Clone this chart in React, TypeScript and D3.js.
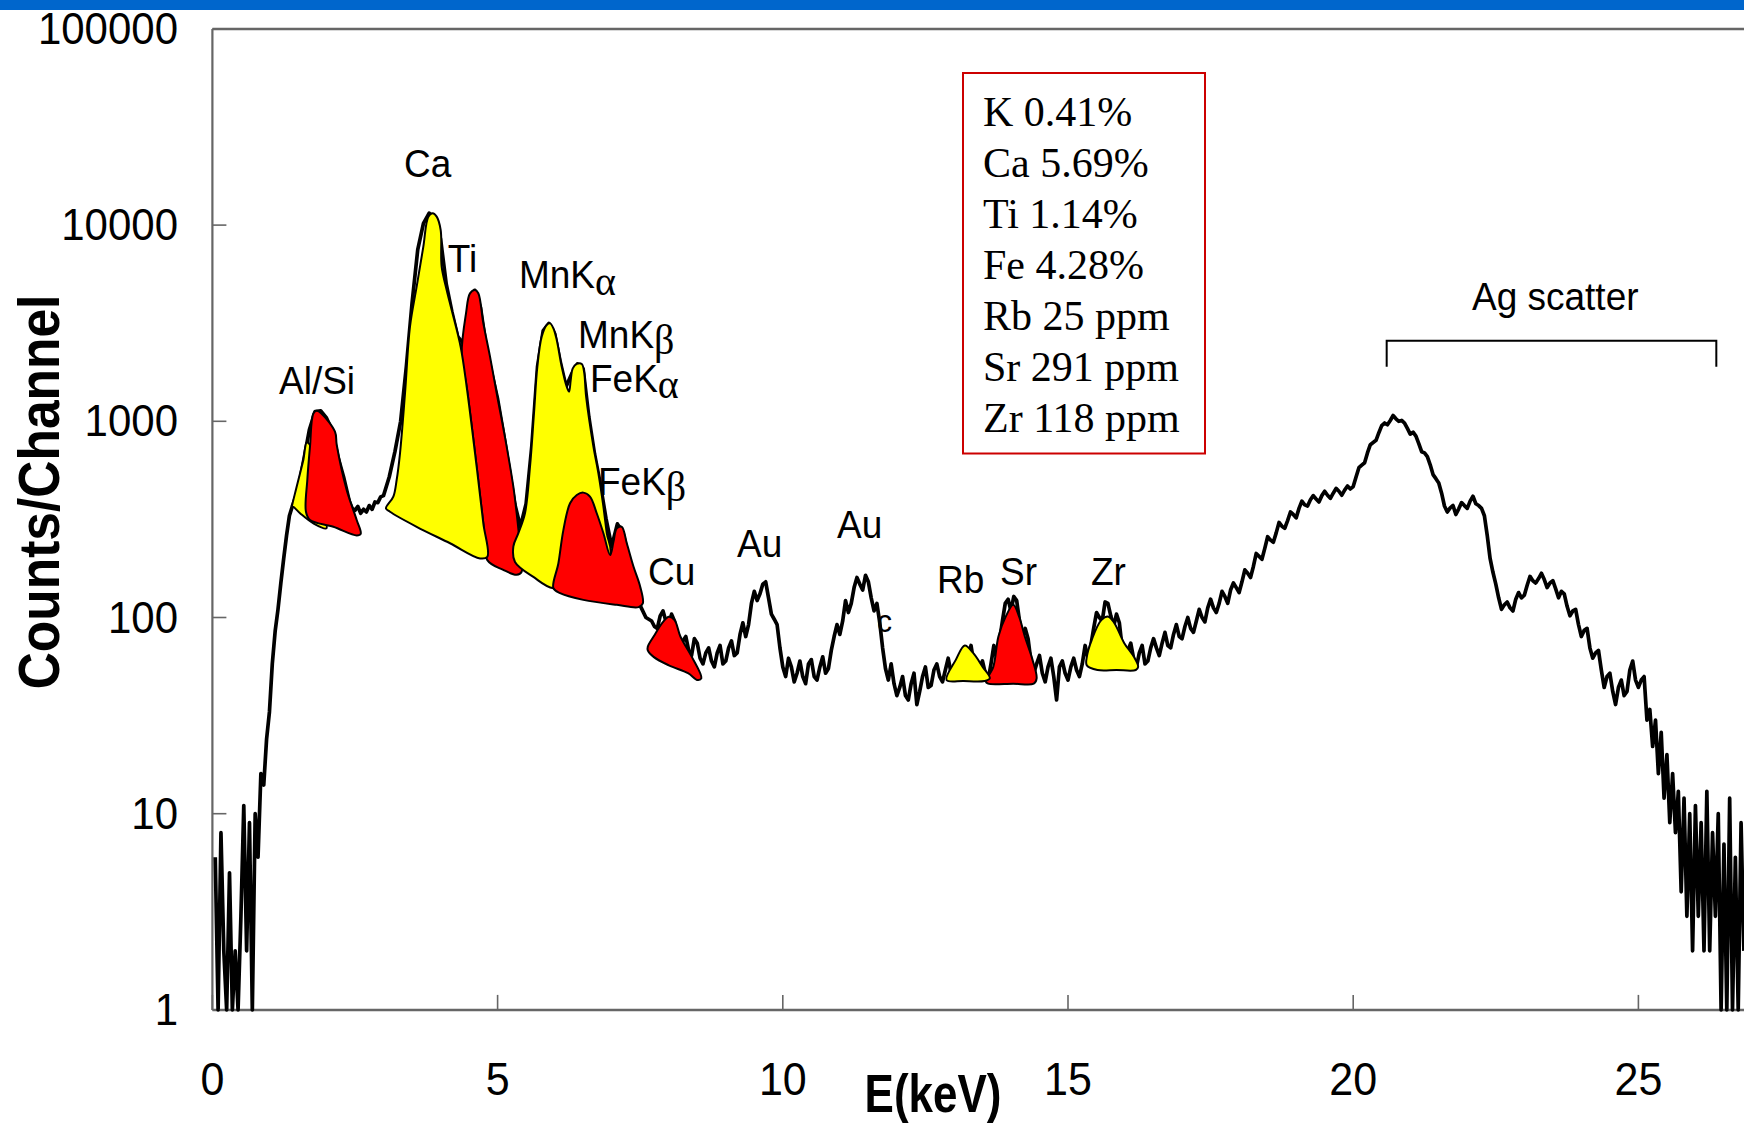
import React from 'react';
import * as d3 from 'd3';

type Pt = [number, number];

// measured spectrum, [energy keV, counts per channel]
const spectrumMain: Pt[] = [
  [0.05, 6], [0.1, 1], [0.15, 8], [0.2, 2], [0.25, 1], [0.3, 5], [0.35, 1], [0.4, 2], [0.45, 1], [0.5, 3],
  [0.55, 11], [0.6, 2], [0.65, 9], [0.7, 1], [0.75, 10], [0.8, 6], [0.85, 16], [0.9, 14], [0.95, 24], [1.0, 33],
  [1.05, 58], [1.1, 85], [1.15, 110], [1.2, 150], [1.25, 200], [1.3, 262], [1.35, 330], [1.4, 368], [1.5, 445], [1.6, 630],
  [1.7, 905], [1.8, 1120], [1.9, 1130], [2.0, 1040], [2.1, 900], [2.2, 660], [2.3, 520], [2.4, 392], [2.45, 360], [2.5, 352],
  [2.55, 368], [2.6, 340], [2.65, 356], [2.7, 345], [2.75, 372], [2.8, 356], [2.85, 388], [2.9, 385], [2.95, 412], [3.0, 418],
  [3.1, 520], [3.2, 700], [3.3, 1000], [3.4, 1900], [3.5, 4000], [3.6, 7500], [3.7, 10200], [3.8, 11500], [3.9, 10800], [4.0, 8500],
  [4.1, 5000], [4.2, 3600], [4.3, 2700], [4.4, 2500], [4.5, 3800], [4.6, 4650], [4.7, 3800], [4.8, 2400], [4.9, 1750], [5.0, 1300],
  [5.1, 880], [5.2, 580], [5.3, 380], [5.4, 290], [5.5, 380], [5.6, 750], [5.7, 1900], [5.8, 2900], [5.9, 3150], [6.0, 2800],
  [6.1, 2000], [6.2, 1500], [6.3, 1750], [6.4, 1960], [6.5, 1850], [6.6, 1050], [6.7, 680], [6.8, 480], [6.9, 320], [7.0, 230],
  [7.1, 300], [7.2, 270], [7.3, 200], [7.4, 150], [7.5, 115], [7.6, 100],
  [7.7, 96], [7.8, 88], [7.9, 108], [8.0, 92], [8.1, 96], [8.2, 72], [8.3, 80], [8.4, 64], [8.5, 74], [8.6, 58],
  [8.7, 70], [8.8, 56], [8.9, 72], [9.0, 60], [9.1, 76], [9.2, 66], [9.3, 94], [9.4, 92], [9.5, 136], [9.6, 132],
  [9.7, 152], [9.8, 104], [9.9, 92], [10.0, 56], [10.1, 62], [10.2, 47], [10.3, 60], [10.4, 46], [10.5, 61], [10.6, 48],
  [10.7, 63], [10.8, 55], [10.9, 80], [11.0, 82], [11.1, 122], [11.2, 118], [11.3, 160], [11.4, 138], [11.5, 152], [11.6, 108],
  [11.7, 94], [11.8, 55], [11.9, 58], [12.0, 40], [12.1, 50], [12.2, 38], [12.3, 52], [12.4, 42], [12.5, 56], [12.6, 45],
  [12.7, 58], [12.8, 47], [12.9, 62], [13.0, 50], [13.1, 64], [13.2, 58], [13.3, 72], [13.4, 50], [13.5, 60], [13.6, 48],
  [13.7, 72], [13.8, 76], [13.9, 118], [14.0, 108], [14.1, 122], [14.2, 80], [14.3, 78], [14.4, 52], [14.5, 64], [14.6, 47],
  [14.7, 62], [14.8, 38], [14.9, 60], [15.0, 48], [15.1, 62], [15.2, 50], [15.3, 72], [15.4, 72], [15.5, 106], [15.6, 96],
  [15.7, 118], [15.8, 90], [15.9, 94], [16.0, 64], [16.1, 74], [16.2, 56], [16.3, 72], [16.4, 60], [16.5, 78], [16.6, 64],
  [16.7, 84], [16.8, 70], [16.9, 92], [17.0, 78], [17.1, 100], [17.2, 84], [17.3, 110], [17.4, 95], [17.5, 124], [17.6, 106],
  [17.7, 136], [17.8, 118], [17.9, 150], [18.0, 134], [18.1, 175], [18.2, 160], [18.3, 212], [18.4, 198], [18.5, 258], [18.6, 242],
  [18.7, 305], [18.8, 285], [18.9, 345], [19.0, 322], [19.1, 392], [19.2, 370], [19.3, 418], [19.4, 388], [19.5, 440], [19.6, 405],
  [19.7, 455], [19.8, 420], [19.9, 468], [20.0, 465], [20.1, 580], [20.2, 615], [20.3, 760], [20.4, 800], [20.5, 950], [20.6, 960],
  [20.7, 1070], [20.8, 1000], [20.9, 980], [21.0, 860], [21.1, 840], [21.2, 700], [21.3, 660], [21.4, 535], [21.5, 485], [21.6, 370],
  [21.7, 362], [21.8, 335], [21.9, 385], [22.0, 360], [22.1, 415], [22.2, 372], [22.3, 330], [22.4, 200], [22.5, 148], [22.6, 110],
  [22.7, 120], [22.8, 108], [22.9, 134], [23.0, 130], [23.1, 162], [23.2, 150], [23.3, 168], [23.4, 142], [23.5, 154], [23.6, 126],
  [23.7, 132], [23.8, 102], [23.9, 110], [24.0, 80], [24.1, 88], [24.2, 62], [24.3, 68], [24.4, 44], [24.5, 52], [24.6, 36],
  [24.7, 48], [24.8, 42], [24.9, 60], [25.0, 44], [25.1, 50], [25.15, 30], [25.2, 34], [25.25, 22], [25.3, 30], [25.35, 16],
  [25.4, 26], [25.45, 12], [25.5, 20], [25.55, 9], [25.6, 16], [25.65, 8], [25.7, 13], [25.75, 4], [25.8, 12], [25.85, 3],
  [25.9, 10], [25.95, 2], [26.0, 11], [26.05, 3], [26.1, 9], [26.15, 2], [26.2, 13], [26.25, 2], [26.3, 8], [26.35, 3],
  [26.4, 10], [26.45, 1], [26.5, 7], [26.55, 1], [26.6, 12], [26.65, 1], [26.7, 6], [26.75, 1], [26.8, 9], [26.85, 2],
];

// in-between channels of the noisy background, read at the half steps
const spectrumHalf: Pt[] = [
  [7.75, 90], [7.85, 102], [7.95, 96], [8.05, 104], [8.15, 82], [8.25, 76], [8.35, 68], [8.45, 78], [8.55, 62], [8.65, 66],
  [8.75, 60], [8.85, 66], [8.95, 58], [9.05, 70], [9.15, 64], [9.25, 82], [9.35, 80], [9.45, 118], [9.55, 122], [9.65, 148],
  [9.75, 126], [9.85, 98], [9.95, 70], [10.05, 50], [10.15, 56], [10.25, 52], [10.35, 50], [10.45, 58], [10.55, 50], [10.65, 56],
  [10.75, 52], [10.85, 68], [10.95, 92], [11.05, 96], [11.15, 106], [11.25, 142], [11.35, 148], [11.45, 164], [11.55, 126], [11.65, 118],
  [11.75, 70], [11.85, 48], [11.95, 46], [12.05, 44], [12.15, 40], [12.25, 46], [12.35, 36], [12.45, 50], [12.55, 44], [12.65, 54],
  [12.75, 50], [12.85, 54], [12.95, 52], [13.05, 58], [13.15, 60], [13.25, 62], [13.35, 58], [13.45, 56], [13.55, 52], [13.65, 58],
  [13.75, 62], [13.85, 96], [13.95, 124], [14.05, 128], [14.15, 96], [14.25, 88], [14.35, 60], [14.45, 58], [14.55, 52], [14.65, 56],
  [14.75, 50], [14.85, 56], [14.95, 52], [15.05, 56], [15.15, 54], [15.25, 58], [15.35, 62], [15.45, 88], [15.55, 100], [15.65, 120],
  [15.75, 102], [15.85, 104], [15.95, 70], [16.05, 68], [16.15, 62], [16.25, 66], [16.35, 58], [16.45, 70], [16.55, 70], [16.65, 74],
  [16.75, 72], [16.85, 82], [16.95, 80], [17.05, 90], [17.15, 88], [17.25, 96], [17.35, 100], [17.45, 112], [17.55, 112], [17.65, 118],
  [17.75, 128], [17.85, 138], [17.95, 142], [18.05, 152], [18.15, 168], [18.25, 182], [18.35, 205], [18.45, 225], [18.55, 248], [18.65, 270],
  [18.75, 292], [18.85, 312], [18.95, 335], [19.05, 360], [19.15, 375], [19.25, 398], [19.35, 402], [19.45, 418], [19.55, 420], [19.65, 430],
  [19.75, 440], [19.85, 446], [19.95, 452], [20.05, 520], [20.15, 598], [20.25, 690], [20.35, 780], [20.45, 875], [20.55, 980], [20.65, 1010],
  [20.75, 1030], [20.85, 1010], [20.95, 920], [21.05, 880], [21.15, 770], [21.25, 690], [21.35, 600], [21.45, 510], [21.55, 430], [21.65, 345],
  [21.75, 372], [21.85, 358], [21.95, 372], [22.05, 392], [22.15, 380], [22.25, 360], [22.35, 262], [22.45, 170], [22.55, 126], [22.65, 116],
  [22.75, 112], [22.85, 124], [22.95, 126], [23.05, 146], [23.15, 154], [23.25, 158], [23.35, 156], [23.45, 150], [23.55, 140], [23.65, 136],
  [23.75, 114], [23.85, 108], [23.95, 92], [24.05, 86], [24.15, 70], [24.25, 66], [24.35, 54], [24.45, 50], [24.55, 42], [24.65, 44],
  [24.75, 40], [24.85, 54], [24.95, 48], [25.05, 48],
];

// hand-drawn peak areas (outline points, keV / counts)
const alSiYellow: Pt[] = [
  [1.39, 360], [1.477, 464], [1.594, 635], [1.655, 780], [1.711, 757], [1.74, 660], [1.798, 502],
  [1.915, 353], [2.0, 285], [1.77, 302], [1.536, 340], [1.41, 367],
];
const alSiRed: Pt[] = [
  [1.64, 346], [1.664, 503], [1.711, 743], [1.77, 1097], [1.83, 1133], [1.91, 1097], [2.149, 885],
  [2.18, 757], [2.354, 447], [2.53, 314], [2.6, 267], [2.53, 262], [2.12, 290], [1.711, 314],
];
const caYellow: Pt[] = [
  [3.043, 360], [3.172, 413], [3.23, 502], [3.289, 687], [3.377, 1390], [3.464, 3035], [3.581, 4853],
  [3.698, 7760], [3.786, 11040], [3.862, 11480], [3.932, 11040], [4.002, 9440], [4.019, 6140],
  [4.107, 4670], [4.195, 3690], [4.352, 2400], [4.458, 1500], [4.633, 587], [4.75, 302], [4.82, 204],
  [4.692, 200], [4.166, 239], [3.581, 290], [3.113, 346],
];
const tiRed: Pt[] = [
  [4.37, 2178], [4.446, 3550], [4.516, 4490], [4.604, 4670], [4.662, 4490], [4.75, 3157], [4.867, 2135],
  [4.984, 1390], [5.159, 743], [5.276, 464], [5.334, 340], [5.393, 230], [5.422, 171], [5.334, 165],
  [5.1, 175], [4.82, 196], [4.75, 302], [4.633, 587], [4.458, 1500],
];
const mnYellow: Pt[] = [
  [5.305, 192], [5.276, 230], [5.364, 269], [5.48, 340], [5.568, 587], [5.638, 1099], [5.697, 1897],
  [5.773, 2700], [5.861, 3097], [5.92, 3157], [5.978, 2979], [6.037, 2596], [6.124, 1897], [6.212, 1500],
  [6.253, 1416], [6.282, 1623], [6.318, 1862], [6.388, 1960], [6.475, 1960], [6.516, 1790], [6.552, 1334],
  [6.68, 743], [6.767, 543], [6.855, 367], [6.914, 269], [6.973, 208], [6.503, 155], [5.978, 141], [5.627, 161],
];
const feRed: Pt[] = [
  [5.978, 141], [6.066, 189], [6.153, 279], [6.27, 382], [6.388, 421], [6.503, 433], [6.62, 413],
  [6.738, 340], [6.855, 269], [6.973, 208], [7.031, 243], [7.09, 285], [7.177, 290], [7.265, 239],
  [7.382, 182], [7.499, 144], [7.546, 118], [7.47, 113], [7.09, 116], [6.503, 123], [6.095, 133],
];
const cuRed: Pt[] = [
  [7.633, 71], [7.735, 80], [7.901, 95], [8.003, 101], [8.103, 97], [8.205, 80], [8.405, 63],
  [8.573, 49], [8.51, 48], [8.338, 52], [8.003, 57], [7.735, 63], [7.633, 68],
];
const rbYellow: Pt[] = [
  [12.87, 48], [13.035, 61], [13.19, 72], [13.337, 66], [13.504, 56], [13.63, 49], [13.538, 47.5], [13.17, 47.5],
];
const srRed: Pt[] = [
  [13.56, 47], [13.69, 56], [13.78, 80], [13.908, 101], [14.04, 116], [14.143, 101], [14.243, 80],
  [14.377, 61], [14.45, 49], [14.4, 46], [14.04, 46], [13.6, 46],
];
const zrYellow: Pt[] = [
  [15.33, 63], [15.417, 77], [15.584, 97], [15.71, 101], [15.819, 93], [15.987, 74], [16.155, 63],
  [16.23, 56], [16.188, 54], [15.85, 54], [15.517, 54], [15.33, 57],
];

const xTicks = [0, 5, 10, 15, 20, 25];
const yTicks = [1, 10, 100, 1000, 10000, 100000];

// label anchors: left edge keV, baseline counts
const peakLabels = [
  { text: 'Al/Si', e: 1.168, c: 1377 },
  { text: 'Ca', e: 3.359, c: 17650 },
  { text: 'Ti', e: 4.127, c: 5785 },
  { text: 'MnK', sub: 'α', e: 5.375, c: 4762 },
  { text: 'MnK', sub: 'β', e: 6.41, c: 2365 },
  { text: 'FeK', sub: 'α', e: 6.62, c: 1416 },
  { text: 'FeK', sub: 'β', e: 6.76, c: 421 },
  { text: 'Cu', e: 7.637, c: 146.5 },
  { text: 'Au', e: 9.197, c: 203 },
  { text: 'Au', e: 10.95, c: 254 },
  { text: 'c', e: 11.651, c: 84, small: true },
  { text: 'Rb', e: 12.703, c: 133 },
  { text: 'Sr', e: 13.808, c: 146.5 },
  { text: 'Zr', e: 15.403, c: 146.5 },
  { text: 'Ag scatter', e: 22.083, c: 3690 },
];

const agBracket = { from: 20.587, to: 26.366, top: 2576, foot: 1897 };

const composition = [
  'K 0.41%',
  'Ca 5.69%',
  'Ti 1.14%',
  'Fe 4.28%',
  'Rb 25 ppm',
  'Sr 291 ppm',
  'Zr 118 ppm',
];

const sans = "'Liberation Sans', Arial, Helvetica, sans-serif";
const serif = "'Liberation Serif', 'Times New Roman', Times, serif";

export default function App() {
  const width = 1744;
  const height = 1123;
  const left = 212.4;
  const top = 28.9;
  const bottom = 1009.9;

  const x = d3.scaleLinear().domain([0, 27]).range([left, left + 27 * 57.04]);
  const y = d3.scaleLog().domain([1, 100000]).range([bottom, top]);

  const spectrum = [...spectrumMain, ...spectrumHalf].sort((a, b) => a[0] - b[0]);

  const line = d3
    .line<Pt>()
    .x((d) => x(d[0]))
    .y((d) => y(d[1]));
  const blob = d3
    .line<Pt>()
    .x((d) => x(d[0]))
    .y((d) => y(d[1]))
    .curve(d3.curveCatmullRomClosed.alpha(0.5));

  const shapes: { pts: Pt[]; fill: string }[] = [
    { pts: tiRed, fill: '#ff0000' },
    { pts: caYellow, fill: '#ffff00' },
    { pts: alSiYellow, fill: '#ffff00' },
    { pts: alSiRed, fill: '#ff0000' },
    { pts: mnYellow, fill: '#ffff00' },
    { pts: feRed, fill: '#ff0000' },
    { pts: cuRed, fill: '#ff0000' },
    { pts: srRed, fill: '#ff0000' },
    { pts: rbYellow, fill: '#ffff00' },
    { pts: zrYellow, fill: '#ffff00' },
  ];

  const axisColor = '#666';

  return (
    <svg
      width={width}
      height={height}
      style={{ position: 'absolute', left: 0, top: 0, display: 'block', background: '#fff' }}
    >
      <rect x={0} y={0} width={width} height={10} fill="#0066cc" />

      {/* frame */}
      <line x1={left} x2={width} y1={top} y2={top} stroke={axisColor} strokeWidth={2.5} />
      <line x1={left} x2={width} y1={bottom} y2={bottom} stroke={axisColor} strokeWidth={2.5} />
      <line x1={left} x2={left} y1={top} y2={bottom} stroke={axisColor} strokeWidth={2.2} />

      {yTicks.map((t) => (
        <g key={`y${t}`}>
          <line x1={left} x2={left + 14} y1={y(t)} y2={y(t)} stroke={axisColor} strokeWidth={1.6} />
          <text
            transform={`translate(178,${y(t) + 15}) scale(1,1.06)`}
            textAnchor="end"
            fontFamily={sans}
            fontSize={42}
            fill="#000"
          >
            {t}
          </text>
        </g>
      ))}
      {xTicks.map((t) => (
        <g key={`x${t}`}>
          <line x1={x(t)} x2={x(t)} y1={bottom} y2={bottom - 15} stroke={axisColor} strokeWidth={1.6} />
          <text
            transform={`translate(${x(t)},1095) scale(1,1.06)`}
            textAnchor="middle"
            fontFamily={sans}
            fontSize={43}
            fill="#000"
          >
            {t}
          </text>
        </g>
      ))}

      <text
        transform="translate(933,1112) scale(1,1.22)"
        textAnchor="middle"
        fontFamily={sans}
        fontWeight="bold"
        fontSize={44}
      >
        E(keV)
      </text>
      <text
        transform="translate(59,492) rotate(-90) scale(1,1.13)"
        textAnchor="middle"
        fontFamily={sans}
        fontWeight="bold"
        fontSize={51.5}
      >
        Counts/Channel
      </text>

      {/* peak labels sit under the spectrum and the fills */}
      {peakLabels.map((l, i) => (
        <text
          key={`l${i}`}
          transform={`translate(${x(l.e)},${y(l.c)}) scale(1,1.06)`}
          fontFamily={sans}
          fontSize={l.small ? 30 : 37}
          fill="#000"
        >
          {l.text}
          {l.sub && (
            <tspan fontFamily={serif} fontSize={40} dy={6}>
              {l.sub}
            </tspan>
          )}
        </text>
      ))}

      <path
        d={`M${x(agBracket.from)},${y(agBracket.foot)}V${y(agBracket.top)}H${x(agBracket.to)}V${y(agBracket.foot)}`}
        fill="none"
        stroke="#000"
        strokeWidth={2}
      />

      <path
        d={line(spectrum) || ''}
        fill="none"
        stroke="#000"
        strokeWidth={3.7}
        strokeLinejoin="round"
      />

      {shapes.map((s, i) => (
        <path
          key={`s${i}`}
          d={blob(s.pts) || ''}
          fill={s.fill}
          stroke="#000"
          strokeWidth={2}
          strokeLinejoin="round"
        />
      ))}

      <rect x={963} y={73} width={242} height={380.5} fill="#fff" stroke="#cc0000" strokeWidth={2} />
      {composition.map((c, i) => (
        <text key={c} x={983} y={125.5 + i * 51.1} fontFamily={serif} fontSize={42} fill="#000">
          {c}
        </text>
      ))}
    </svg>
  );
}
